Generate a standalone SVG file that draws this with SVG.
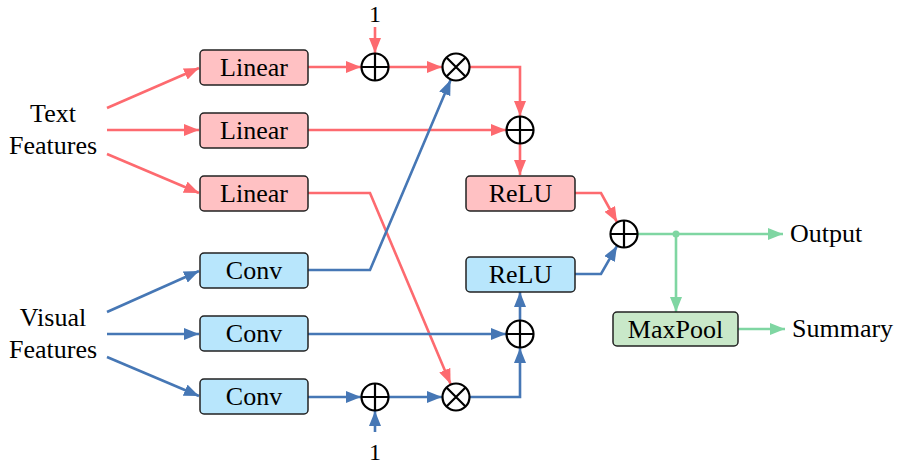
<svg xmlns="http://www.w3.org/2000/svg" width="899" height="466" viewBox="0 0 899 466">
<style>
text{font-family:"Liberation Serif","Times New Roman",serif;font-size:26px;fill:#000}
.lbl{text-anchor:middle}
.one{font-size:24px}
.box{stroke:#222;stroke-width:1.5}
.lin{fill:#ffc1c3}
.cnv{fill:#b8e6fc}
.mp{fill:#c9e8c9}
.op{fill:#fff;stroke:#000;stroke-width:2.2}
.opl{stroke:#000;stroke-width:2.2;fill:none}
.r{stroke:#fd6a6f;stroke-width:2.6;fill:none}
.b{stroke:#4677b5;stroke-width:2.6;fill:none}
.g{stroke:#7fd6a2;stroke-width:2.6;fill:none}
</style>
<defs>
<marker id="ar" markerUnits="userSpaceOnUse" markerWidth="15" markerHeight="12" refX="15" refY="6" orient="auto"><path d="M0,0 L15,6 L0,12 z" fill="#fd6a6f"/></marker>
<marker id="ab" markerUnits="userSpaceOnUse" markerWidth="15" markerHeight="12" refX="15" refY="6" orient="auto"><path d="M0,0 L15,6 L0,12 z" fill="#4677b5"/></marker>
<marker id="ag" markerUnits="userSpaceOnUse" markerWidth="15" markerHeight="12" refX="15" refY="6" orient="auto"><path d="M0,0 L15,6 L0,12 z" fill="#7fd6a2"/></marker>
</defs>
<g id="connectors">
<path class="r" marker-end="url(#ar)" d="M107,108 L199,68"/>
<path class="r" marker-end="url(#ar)" d="M107,130 L199,130"/>
<path class="r" marker-end="url(#ar)" d="M107,154 L199,193"/>
<path class="r" marker-end="url(#ar)" d="M308,67 L361,67"/>
<path class="r" marker-end="url(#ar)" d="M375,27 L375,53"/>
<path class="r" marker-end="url(#ar)" d="M389,67 L442,67"/>
<path class="r" marker-end="url(#ar)" d="M470,67 L520,67 L520,116"/>
<path class="r" marker-end="url(#ar)" d="M308,130 L506,130"/>
<path class="r" marker-end="url(#ar)" d="M520,144 L520,175"/>
<path class="r" marker-end="url(#ar)" d="M308,193 L370,193 L450.6,384"/>
<path class="r" marker-end="url(#ar)" d="M575,193 L601,193 L617,222"/>
<path class="b" marker-end="url(#ab)" d="M107,312 L199,271"/>
<path class="b" marker-end="url(#ab)" d="M107,334 L199,334"/>
<path class="b" marker-end="url(#ab)" d="M107,357 L199,396"/>
<path class="b" marker-end="url(#ab)" d="M308,270 L370,270 L450.6,80"/>
<path class="b" marker-end="url(#ab)" d="M308,334 L506,334"/>
<path class="b" marker-end="url(#ab)" d="M308,397 L361,397"/>
<path class="b" marker-end="url(#ab)" d="M375,432 L375,411"/>
<path class="b" marker-end="url(#ab)" d="M389,397 L442,397"/>
<path class="b" marker-end="url(#ab)" d="M470,397 L520,397 L520,348"/>
<path class="b" marker-end="url(#ab)" d="M520,320 L520,292"/>
<path class="b" marker-end="url(#ab)" d="M575,274 L601,274 L617,246"/>
<path class="g" marker-end="url(#ag)" d="M638,234 L783,234"/>
<path class="g" marker-end="url(#ag)" d="M676,234 L676,312"/>
<path class="g" marker-end="url(#ag)" d="M738,329 L785,329"/>
<circle cx="676" cy="234" r="3.5" fill="#7fd6a2"/>
</g>
<g id="text-features"><text class="lbl" x="53" y="122">Text</text><text class="lbl" x="53" y="154">Features</text></g>
<g id="visual-features"><text class="lbl" x="53" y="326">Visual</text><text class="lbl" x="53" y="358">Features</text></g>
<g id="linear1"><rect class="box lin" x="200" y="50" width="108" height="35" rx="4"/><text class="lbl" x="254" y="76">Linear</text></g>
<g id="linear2"><rect class="box lin" x="200" y="113" width="108" height="35" rx="4"/><text class="lbl" x="254" y="139">Linear</text></g>
<g id="linear3"><rect class="box lin" x="200" y="176" width="108" height="35" rx="4"/><text class="lbl" x="254" y="202">Linear</text></g>
<g id="conv1"><rect class="box cnv" x="200" y="253" width="108" height="35" rx="4"/><text class="lbl" x="254" y="279">Conv</text></g>
<g id="conv2"><rect class="box cnv" x="200" y="316" width="108" height="35" rx="4"/><text class="lbl" x="254" y="342">Conv</text></g>
<g id="conv3"><rect class="box cnv" x="200" y="379" width="108" height="35" rx="4"/><text class="lbl" x="254" y="405">Conv</text></g>
<g id="one-top"><text class="lbl one" x="375" y="22">1</text></g>
<g id="one-bottom"><text class="lbl one" x="375" y="460">1</text></g>
<g id="plus1"><circle class="op" cx="375" cy="67" r="13.5"/><path class="opl" d="M361.5,67 H388.5 M375,53.5 V80.5"/></g>
<g id="times1"><circle class="op" cx="456" cy="67" r="13.5"/><path class="opl" d="M446.5,57.5 L465.5,76.5 M465.5,57.5 L446.5,76.5"/></g>
<g id="plus2"><circle class="op" cx="520" cy="130" r="13.5"/><path class="opl" d="M506.5,130 H533.5 M520,116.5 V143.5"/></g>
<g id="relu1"><rect class="box lin" x="466" y="176" width="109" height="35" rx="4"/><text class="lbl" x="520.5" y="202">ReLU</text></g>
<g id="relu2"><rect class="box cnv" x="466" y="257" width="109" height="35" rx="4"/><text class="lbl" x="520.5" y="283">ReLU</text></g>
<g id="plus3"><circle class="op" cx="520" cy="334" r="13.5"/><path class="opl" d="M506.5,334 H533.5 M520,320.5 V347.5"/></g>
<g id="plus4"><circle class="op" cx="375" cy="397" r="13.5"/><path class="opl" d="M361.5,397 H388.5 M375,383.5 V410.5"/></g>
<g id="times2"><circle class="op" cx="456" cy="397" r="13.5"/><path class="opl" d="M446.5,387.5 L465.5,406.5 M465.5,387.5 L446.5,406.5"/></g>
<g id="plus-final"><circle class="op" cx="624" cy="234" r="13.5"/><path class="opl" d="M610.5,234 H637.5 M624,220.5 V247.5"/></g>
<g id="maxpool"><rect class="box mp" x="613" y="312" width="125" height="34" rx="4"/><text class="lbl" x="675.5" y="338">MaxPool</text></g>
<g id="output"><text x="790" y="242">Output</text></g>
<g id="summary"><text x="792" y="337">Summary</text></g>
</svg>
